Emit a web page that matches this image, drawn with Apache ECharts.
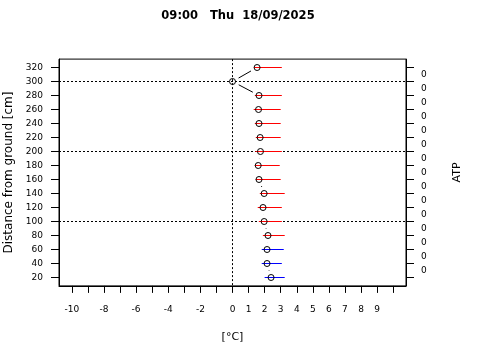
<!DOCTYPE html>
<html><head><meta charset="utf-8">
<script src="https://cdn.jsdelivr.net/npm/echarts@6/dist/echarts.min.js"></script>
<style>html,body{margin:0;padding:0;background:#fff}#c{width:480px;height:360px}</style>
</head><body><div id="c"></div>
<script>
const titleText = '09:00   Thu  18/09/2025';
const heights = [320, 300, 280, 260, 240, 220, 200, 180, 160, 140, 120, 100, 80, 60, 40, 20];
const tempValues = [1.53, 0, 1.65, 1.62, 1.65, 1.72, 1.74, 1.60, 1.65, 1.97, 1.90, 1.97, 2.21, 2.15, 2.15, 2.40];
const tempMin = [1.34, null, 1.39, 1.32, 1.39, 1.45, 1.43, 1.39, 1.45, 1.70, 1.57, 1.64, 1.89, 1.82, 1.82, 2.00];
const tempMax = [3.07, null, 3.07, 3.00, 3.00, 3.00, 3.07, 2.94, 3.00, 3.25, 3.07, 3.07, 3.25, 3.19, 3.07, 3.25];
const sensorGroup = ['air','air','air','air','air','air','air','air','air','air','air','air','air','snow','snow','snow'];
const xTicks = [-10,-9,-8,-7,-6,-5,-4,-3,-2,-1,0,1,2,3,4,5,6,7,8,9,10];
const xLabels = [-10,-8,-6,-4,-2,0,1,2,3,4,5,6,7,8,9];
const yTicks = [20,40,60,80,100,120,140,160,180,200,220,240,260,280,300,320];
const atpLevels = [310,290,270,250,230,210,190,170,150,130,110,90,70,50,30];
const atpValues = [0,0,0,0,0,0,0,0,0,0,0,0,0,0,0];
const refHeights = [100, 200, 300];
const refTemps = [0];

const groupColor = { air: '#ff0000', snow: '#0000ff' };
const GAP = 7;
const px = v => Math.round(v - 0.5) + 0.5;

// range segments per group, separated by null breaks (plain line series)
function rangeSegments(group) {
  const out = [];
  heights.forEach((h, i) => {
    if (tempMin[i] == null || sensorGroup[i] !== group) return;
    if (out.length) out.push(null);
    out.push([tempMin[i], h], [tempMax[i], h]);
  });
  return out;
}
const linkIdx = heights.slice(0, -1).map((h, i) => [i]);
const pointData = heights.map((h, i) => [tempValues[i], h]);

const tickFont = { fontFamily: 'DejaVu Sans', fontSize: 9, color: '#000' };

const rangeSeries = Object.keys(groupColor).map(g => ({
  type: 'line', name: 'range-' + g, silent: true, z: 3,
  data: rangeSegments(g),
  connectNulls: false, showSymbol: false, symbol: 'none',
  color: groupColor[g],
  lineStyle: { color: groupColor[g], width: 1, type: 'solid' },
  itemStyle: { color: groupColor[g] },
  emphasis: { disabled: true }
}));

const chart = echarts.init(document.getElementById('c'), null, { renderer: 'canvas' });
chart.setOption({
  animation: false,
  backgroundColor: '#fff',
  title: {
    text: titleText, left: 238, top: 10, padding: 0, textAlign: 'center',
    textStyle: { fontFamily: 'DejaVu Sans', fontSize: 11.5, fontWeight: 'bold', color: '#000' }
  },
  grid: { left: 59, right: 74, top: 59.1, height: 226.8, show: true, borderColor: '#000', borderWidth: 1,
    backgroundColor: 'transparent', containLabel: false, outerBoundsMode: 'none' },
  xAxis: {
    type: 'value', min: -10.8, max: 10.8,
    name: '[°C]', nameLocation: 'middle', nameGap: 46,
    nameTextStyle: { fontFamily: 'DejaVu Sans', fontSize: 11, color: '#000' },
    axisLine: { show: true, onZero: false, lineStyle: { color: '#000' } },
    axisTick: { show: true, length: 7, lineStyle: { color: '#000' }, customValues: xTicks },
    axisLabel: { ...tickFont, margin: 19, customValues: xLabels, formatter: v => String(v) },
    splitLine: { show: false }
  },
  yAxis: [{
    type: 'value', min: 8, max: 332, position: 'left',
    name: 'Distance from ground [cm]', nameLocation: 'middle', nameGap: 43, nameRotate: 90,
    nameTextStyle: { fontFamily: 'DejaVu Sans', fontSize: 12, color: '#000' },
    axisLine: { show: true, onZero: false, lineStyle: { color: '#000' } },
    axisTick: { show: true, length: 8, lineStyle: { color: '#000' }, customValues: yTicks },
    axisLabel: { ...tickFont, margin: 16, customValues: yTicks, formatter: v => String(v) },
    splitLine: { show: false }
  }, {
    type: 'value', min: 8, max: 332, position: 'right',
    name: 'ATP', nameLocation: 'middle', nameGap: 46, nameRotate: 90,
    nameTextStyle: { fontFamily: 'DejaVu Sans', fontSize: 11, color: '#000' },
    axisLine: { show: true, onZero: false, lineStyle: { color: '#000' } },
    axisTick: { show: true, length: 8, lineStyle: { color: '#000' }, customValues: yTicks },
    axisLabel: { ...tickFont, margin: 15, customValues: atpLevels,
      formatter: v => { const k = atpLevels.indexOf(v); return k >= 0 ? String(atpValues[k]) : ''; } },
    splitLine: { show: false }
  }],
  series: [
    {
      type: 'custom', name: 'refH', silent: true, z: 1,
      data: refHeights.map(h => [h]),
      encode: { y: 0 },
      renderItem: (params, api) => {
        const cs = params.coordSys;
        const y = px(api.coord([0, refHeights[params.dataIndex]])[1]);
        return { type: 'line', shape: { x1: cs.x, y1: y, x2: cs.x + cs.width, y2: y },
          style: { stroke: '#000', lineWidth: 1, lineDash: [2, 2] } };
      }
    },
    {
      type: 'custom', name: 'refT', silent: true, z: 1,
      data: refTemps.map(t => [t]),
      encode: { x: 0 },
      renderItem: (params, api) => {
        const cs = params.coordSys;
        const x = px(api.coord([refTemps[params.dataIndex], 100])[0]);
        return { type: 'line', shape: { x1: x, y1: cs.y, x2: x, y2: cs.y + cs.height },
          style: { stroke: '#000', lineWidth: 1, lineDash: [2, 2] } };
      }
    },
    ...rangeSeries,
    {
      type: 'custom', name: 'link', silent: true, z: 2,
      data: linkIdx,
      renderItem: (params, api) => {
        const i = params.dataIndex;
        const a = api.coord([tempValues[i], heights[i]]);
        const b = api.coord([tempValues[i + 1], heights[i + 1]]);
        const dx = b[0] - a[0], dy = b[1] - a[1];
        const len = Math.sqrt(dx * dx + dy * dy);
        if (len <= 2 * GAP) return { type: 'group', children: [] };
        const ux = dx / len, uy = dy / len;
        return { type: 'line', shape: { x1: a[0] + ux * GAP, y1: a[1] + uy * GAP, x2: b[0] - ux * GAP, y2: b[1] - uy * GAP },
          style: { stroke: '#000', lineWidth: 1 } };
      }
    },
    {
      type: 'scatter', name: 'temp', silent: true, z: 4,
      data: pointData,
      symbol: 'circle', symbolSize: 6,
      itemStyle: { color: 'rgba(0,0,0,0)', borderColor: '#000', borderWidth: 1, opacity: 1 }
    }
  ]
});
</script>
</body></html>
